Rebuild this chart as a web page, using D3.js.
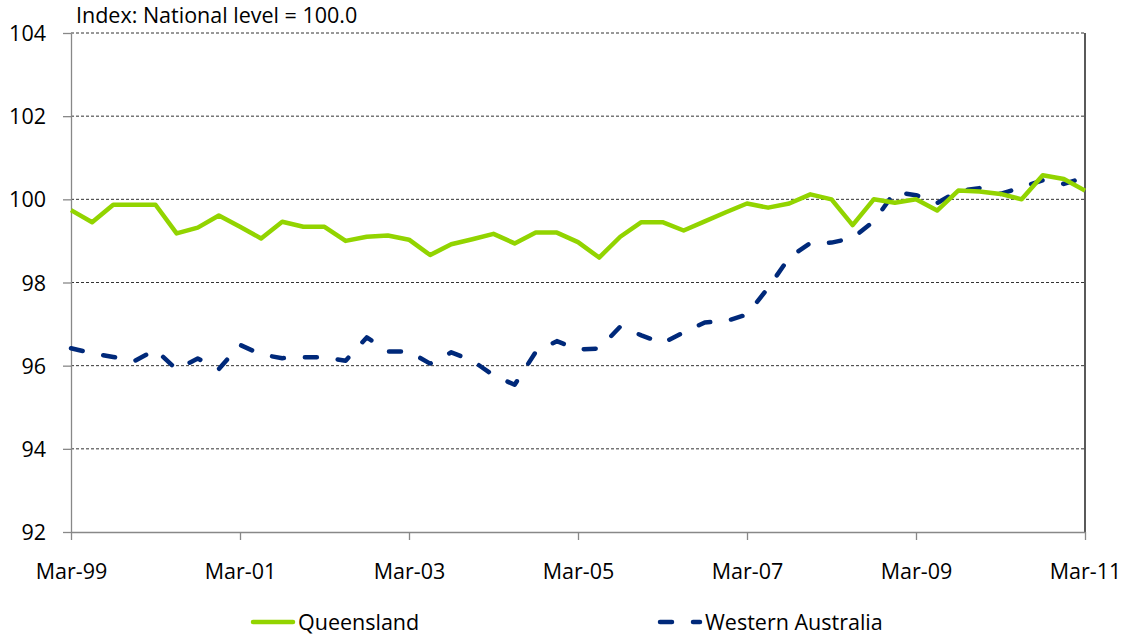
<!DOCTYPE html>
<html lang="en">
<head>
    <meta charset="UTF-8">
    <title>Index: National level = 100.0</title>
    <script src="https://d3js.org/d3.v7.min.js"></script>
    <style>
        body { margin: 0; background: #fff; }
        text { font-family: "Open Sans", sans-serif; font-size: 21.5px; fill: #000; }
        .grid line { stroke: #333; stroke-width: 1; stroke-dasharray: 3,2; }
        .axis path, .axis line { stroke: #888; stroke-width: 1.3; }
    </style>
</head>
<body>
    <div id="chart"></div>
    <script>
        // quarterly observations, Mar-99 .. Mar-11 (49 quarters)
        const queensland = [
            99.74, 99.45, 99.87, 99.87, 99.87, 99.18, 99.32, 99.61, 99.34, 99.06,
            99.46, 99.34, 99.34, 99.00, 99.10, 99.13, 99.03, 98.66, 98.92, 99.04,
            99.17, 98.94, 99.20, 99.20, 98.97, 98.60, 99.10, 99.45, 99.45, 99.25,
            99.47, 99.69, 99.90, 99.80, 99.90, 100.12, 100.00, 99.38, 100.00, 99.92,
            100.00, 99.73, 100.21, 100.19, 100.13, 100.00, 100.58, 100.49, 100.21
        ];
        const westernAustralia = [
            96.42, 96.30, 96.21, 96.11, 96.38, 95.91, 96.17, 95.92, 96.50, 96.27,
            96.18, 96.20, 96.20, 96.12, 96.68, 96.34, 96.34, 96.05, 96.32, 96.12,
            95.77, 95.54, 96.33, 96.59, 96.39, 96.41, 96.94, 96.73, 96.54, 96.80,
            97.04, 97.07, 97.23, 97.87, 98.60, 98.95, 98.96, 99.07, 99.47, 100.18,
            100.10, 99.91, 100.20, 100.27, 100.13, 100.29, 100.46, 100.37, 100.53
        ];
        const yTicks = [92, 94, 96, 98, 100, 102, 104];
        const xTickLabels = ["Mar-99", "Mar-01", "Mar-03", "Mar-05", "Mar-07", "Mar-09", "Mar-11"];
        const seriesNames = ["Queensland", "Western Australia"];
        const title = "Index: National level = 100.0";

        const W = 1128, H = 637;
        const margin = { top: 33, right: 43, bottom: 105, left: 71 };
        const width = W - margin.left - margin.right;
        const height = H - margin.top - margin.bottom;

        const nQuarters = queensland.length;
        const xTickIndex = xTickLabels.map((d, i) => i * 8);   // one label every 2 years

        const svg = d3.select('#chart').append('svg')
            .attr('width', W)
            .attr('height', H);

        const g = svg.append('g')
            .attr('transform', `translate(${margin.left}, ${margin.top})`);

        const x = d3.scaleLinear()
            .domain([0, nQuarters - 1])
            .range([0, width]);

        const y = d3.scaleLinear()
            .domain([92, 104])
            .range([height, 0]);

        // dotted gridlines
        g.append('g')
            .attr('class', 'grid')
            .selectAll('line')
            .data(yTicks.slice(1))
            .join('line')
            .attr('x1', 0)
            .attr('x2', width)
            .attr('y1', d => y(d))
            .attr('y2', d => y(d));

        // right border
        g.append('line')
            .attr('x1', width).attr('x2', width)
            .attr('y1', 0).attr('y2', height)
            .attr('stroke', '#000')
            .attr('stroke-width', 1.3);

        const yAxis = g.append('g')
            .attr('class', 'axis')
            .call(d3.axisLeft(y).tickValues(yTicks).tickSize(8).tickPadding(17).tickSizeOuter(0)
                .tickFormat(d3.format('d')));
        yAxis.selectAll('text').attr('dy', '0.35em');

        const xAxis = g.append('g')
            .attr('class', 'axis')
            .attr('transform', `translate(0, ${height})`)
            .call(d3.axisBottom(x).tickValues(xTickIndex).tickSize(8).tickPadding(0).tickSizeOuter(0)
                .tickFormat((d, i) => xTickLabels[i]));
        xAxis.selectAll('text').attr('dy', null).attr('y', 47);

        const line = d3.line()
            .x((d, i) => x(i))
            .y(d => y(d));

        g.append('path')
            .datum(westernAustralia)
            .attr('fill', 'none')
            .attr('stroke', '#00297a')
            .attr('stroke-width', 4.5)
            .attr('stroke-linecap', 'round')
            .attr('stroke-linejoin', 'round')
            .attr('stroke-dasharray', '12,21')
            .attr('d', line);

        g.append('path')
            .datum(queensland)
            .attr('fill', 'none')
            .attr('stroke', '#92d400')
            .attr('stroke-width', 4.5)
            .attr('stroke-linejoin', 'round')
            .attr('d', line);

        svg.append('text')
            .attr('x', 76)
            .attr('y', 23)
            .text(title);

        // legend
        const legend = svg.append('g').attr('transform', 'translate(0, 622)');
        const legendItems = [
            { name: seriesNames[0], x: 253, color: '#92d400', dash: null },
            { name: seriesNames[1], x: 660, color: '#00297a', dash: '12,21' }
        ];
        const item = legend.selectAll('g')
            .data(legendItems)
            .join('g')
            .attr('transform', d => `translate(${d.x}, 0)`);
        item.append('line')
            .attr('x1', 0).attr('x2', 40)
            .attr('stroke', d => d.color)
            .attr('stroke-width', 4.5)
            .attr('stroke-linecap', 'round')
            .attr('stroke-dasharray', d => d.dash);
        item.append('text')
            .attr('x', 45)
            .attr('y', 8)
            .text(d => d.name);
    </script>
</body>
</html>
